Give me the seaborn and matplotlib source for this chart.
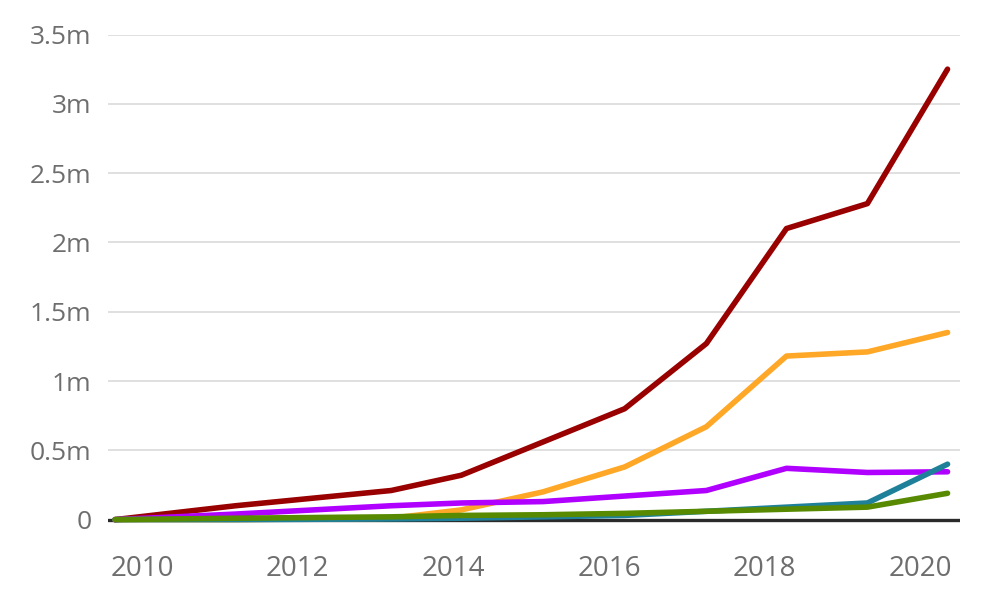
import matplotlib
matplotlib.use("Agg")
import matplotlib.pyplot as plt
from matplotlib.ticker import FuncFormatter
import numpy as np
import pandas as pd
import seaborn as sns

# observation dates (fractional years) and values in millions
years = [2009.65, 2011.2, 2013.2, 2014.1, 2015.15, 2016.2, 2017.25, 2018.28, 2019.32, 2020.35]
red = [0.0, 0.10, 0.21, 0.32, 0.56, 0.80, 1.27, 2.10, 2.28, 3.25]
orange = [0.0, 0.0, 0.01, 0.07, 0.20, 0.38, 0.67, 1.18, 1.21, 1.35]
purple = [0.0, 0.04, 0.10, 0.12, 0.13, 0.17, 0.21, 0.37, 0.34, 0.345]
teal = [0.0, 0.0, 0.005, 0.01, 0.02, 0.03, 0.06, 0.09, 0.12, 0.40]
green = [0.0, 0.01, 0.02, 0.03, 0.035, 0.045, 0.06, 0.075, 0.09, 0.19]

series = {"red": red, "orange": orange, "purple": purple, "teal": teal, "green": green}
palette = {"red": "#990000", "orange": "#ffa726", "purple": "#b000ff",
           "teal": "#1f8199", "green": "#578a00"}

df = pd.concat(
    [pd.DataFrame({"year": years, "value": np.array(v) * 1e6, "series": k})
     for k, v in series.items()],
    ignore_index=True,
)

sns.set_style("white")
plt.rcParams["font.family"] = ["Open Sans", "DejaVu Sans"]

fig = plt.figure(figsize=(9.97, 5.94), dpi=100)
ax = fig.add_axes([108 / 997, 64 / 594, (960 - 108) / 997, (530 - 34.5) / 594])

sns.lineplot(data=df, x="year", y="value", hue="series", palette=palette,
             linewidth=4.0, legend=False, ax=ax, zorder=3)

ax.set_xlim(2009.56, 2020.51)
ax.set_ylim(-0.075e6, 3.5e6)
ax.set_yticks(np.arange(0, 3.51e6, 0.5e6))
ax.set_xticks([2010, 2012, 2014, 2016, 2018, 2020])


def fmt_m(v, pos):
    if v == 0:
        return "0"
    return f"{v / 1e6:g}m"


ax.yaxis.set_major_formatter(FuncFormatter(fmt_m))
ax.xaxis.set_major_formatter(FuncFormatter(lambda v, p: f"{int(v)}"))

ax.grid(True, axis="y", color="#dddddd", linewidth=1.3, zorder=0)
ax.axhline(0, color="#2a2a2a", linewidth=2.4, zorder=2)
for s in ax.spines.values():
    s.set_visible(False)

ax.tick_params(axis="y", length=0, pad=12, labelsize=19, labelcolor="#6e6e6e")
ax.tick_params(axis="x", length=0, pad=18, labelsize=20, labelcolor="#6e6e6e")
for lbl in ax.get_xticklabels():
    lbl.set_fontfamily(["Liberation Sans Narrow", "Open Sans", "DejaVu Sans"])
ax.set_xlabel("")
ax.set_ylabel("")

fig.savefig("out.png", dpi=100)
